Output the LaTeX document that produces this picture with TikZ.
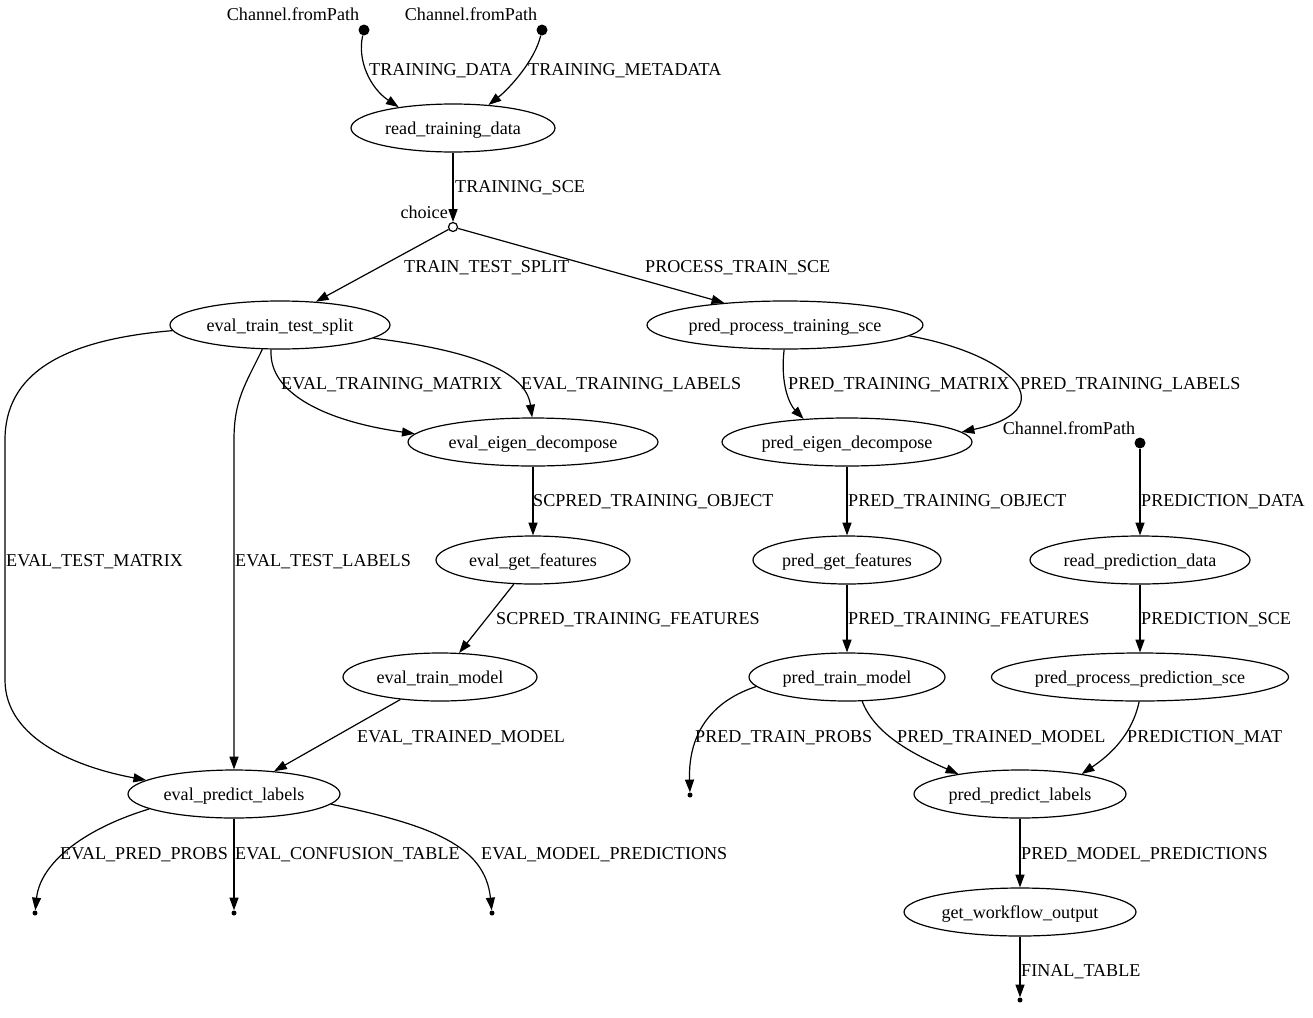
\documentclass[tikz,border=0pt]{standalone}
\usepackage{fontspec}
\setmainfont{Liberation Serif}
\usetikzlibrary{arrows.meta,shapes.geometric}
\begin{document}
\begin{tikzpicture}[x=1pt,y=-1pt,
  every node/.style={font=\fontsize{18.1}{20}\selectfont,text height=13pt,text depth=1pt},
  proc/.style={ellipse,draw,line width=1.2pt,inner sep=0pt,minimum height=48pt},
  src/.style={circle,fill=black,inner sep=0pt,minimum size=11pt,text height=,text depth=},
  sink/.style={circle,fill=black,inner sep=0pt,minimum size=5pt,text height=,text depth=},
  lbl/.style={anchor=west,inner sep=0pt},
  txt/.style={inner sep=0pt},
  arr/.style={line width=1.2pt,-{Triangle[length=12.7pt,width=9pt]}},
]
\useasboundingbox (0,0) rectangle (1313,1017);

% sources
\node[src] (s1) at (364,30) {};
\node[txt] (s1l) at (293,14) {Channel.fromPath};
\node[src] (s2) at (542,30) {};
\node[txt] (s2l) at (471,14) {Channel.fromPath};
\node[src] (s3) at (1140,443) {};
\node[txt] (s3l) at (1069,428) {Channel.fromPath};

% processes
\node[proc,minimum width=204pt] (rtd) at (453,128) {read\_training\_data};
\node[circle,draw,fill=white,line width=1.2pt,inner sep=0pt,minimum size=9pt,text height=,text depth=] (ch) at (453,227) {};
\node[txt,anchor=east] (chl) at (448,212) {choice};
\node[proc,minimum width=220pt] (etts) at (280,325) {eval\_train\_test\_split};
\node[proc,minimum width=276pt] (ppts) at (785,325) {pred\_process\_training\_sce};
\node[proc,minimum width=250pt] (eed) at (533,442) {eval\_eigen\_decompose};
\node[proc,minimum width=250pt] (ped) at (847,442) {pred\_eigen\_decompose};
\node[proc,minimum width=194pt] (egf) at (533,560) {eval\_get\_features};
\node[proc,minimum width=188pt] (pgf) at (847,560) {pred\_get\_features};
\node[proc,minimum width=220pt] (rpd) at (1140,560) {read\_prediction\_data};
\node[proc,minimum width=194pt] (etm) at (440,677) {eval\_train\_model};
\node[proc,minimum width=196pt] (ptm) at (847,677) {pred\_train\_model};
\node[proc,minimum width=296pt] (pps) at (1140,677) {pred\_process\_prediction\_sce};
\node[proc,minimum width=212pt] (epl) at (234,794) {eval\_predict\_labels};
\node[proc,minimum width=212pt] (ppl) at (1020,794) {pred\_predict\_labels};
\node[proc,minimum width=232pt] (gwo) at (1020,912) {get\_workflow\_output};

% sinks
\node[sink] (e1) at (35,913) {};
\node[sink] (e2) at (234,913) {};
\node[sink] (e3) at (492,913) {};
\node[sink] (k1) at (690,795) {};
\node[sink] (e4) at (1020,1000) {};

% edges
\draw[arr] (s1) .. controls (357,60) and (370,88) .. (rtd.159);
\draw[arr] (s2) .. controls (535,60) and (510,88) .. (rtd.33);
\draw[arr] (rtd) -- (ch);
\draw[arr] (ch) -- (etts.33);
\draw[arr] (ch) -- (ppts.160);
\draw[arr] (etts.183) .. controls (60,340) and (5,375) .. (5,440) -- (5,680) .. controls (5,740) and (80,768) .. (epl.171);
\draw[arr] (etts.234) .. controls (245,385) and (234,400) .. (234,440) -- (epl.north);
\draw[arr] (etts.250) .. controls (268,395) and (330,422) .. (eed.176);
\draw[arr] (etts.352) .. controls (450,348) and (525,365) .. (eed.92);
\draw[arr] (ppts.268) .. controls (780,385) and (790,405) .. (ped.152);
\draw[arr] (ppts.355) .. controls (1015,355) and (1065,410) .. (ped.5);
\draw[arr] (eed) -- (egf);
\draw[arr] (ped) -- (pgf);
\draw[arr] (s3) -- (rpd);
\draw[arr] (egf) -- (etm);
\draw[arr] (pgf) -- (ptm);
\draw[arr] (rpd) -- (pps);
\draw[arr] (etm) -- (epl);
\draw[arr] (ptm.186) .. controls (715,700) and (688,730) .. (k1);
\draw[arr] (ptm.302) .. controls (875,735) and (915,755) .. (ppl.162);
\draw[arr] (pps.268) .. controls (1132,735) and (1110,755) .. (ppl.18);
\draw[arr] (epl.190) .. controls (80,830) and (40,865) .. (e1);
\draw[arr] (epl) -- (e2);
\draw[arr] (epl.354) .. controls (430,825) and (485,845) .. (e3);
\draw[arr] (ppl) -- (gwo);
\draw[arr] (gwo) -- (e4);

% edge labels
\node[lbl] (l1) at (369,69) {TRAINING\_DATA};
\node[lbl] (l2) at (528,69) {TRAINING\_METADATA};
\node[lbl] (l3) at (455,186) {TRAINING\_SCE};
\node[lbl] (l4) at (404,266) {TRAIN\_TEST\_SPLIT};
\node[lbl] (l5) at (645,266) {PROCESS\_TRAIN\_SCE};
\node[lbl] (l6) at (281,383) {EVAL\_TRAINING\_MATRIX};
\node[lbl] (l7) at (521,383) {EVAL\_TRAINING\_LABELS};
\node[lbl] (l8) at (788,383) {PRED\_TRAINING\_MATRIX};
\node[lbl] (l9) at (1020,383) {PRED\_TRAINING\_LABELS};
\node[lbl] (l10) at (6,560) {EVAL\_TEST\_MATRIX};
\node[lbl] (l11) at (235,560) {EVAL\_TEST\_LABELS};
\node[lbl] (l12) at (533,500) {SCPRED\_TRAINING\_OBJECT};
\node[lbl] (l13) at (848,500) {PRED\_TRAINING\_OBJECT};
\node[lbl] (l14) at (1141,500) {PREDICTION\_DATA};
\node[lbl] (l15) at (496,618) {SCPRED\_TRAINING\_FEATURES};
\node[lbl] (l16) at (848,618) {PRED\_TRAINING\_FEATURES};
\node[lbl] (l17) at (1141,618) {PREDICTION\_SCE};
\node[lbl] (l18) at (357,736) {EVAL\_TRAINED\_MODEL};
\node[lbl] (l19) at (695,736) {PRED\_TRAIN\_PROBS};
\node[lbl] (l20) at (897,736) {PRED\_TRAINED\_MODEL};
\node[lbl] (l21) at (1127,736) {PREDICTION\_MAT};
\node[lbl] (l22) at (60,853) {EVAL\_PRED\_PROBS};
\node[lbl] (l23) at (235,853) {EVAL\_CONFUSION\_TABLE};
\node[lbl] (l24) at (481,853) {EVAL\_MODEL\_PREDICTIONS};
\node[lbl] (l25) at (1021,853) {PRED\_MODEL\_PREDICTIONS};
\node[lbl] (l26) at (1021,970) {FINAL\_TABLE};
\end{tikzpicture}
\end{document}
